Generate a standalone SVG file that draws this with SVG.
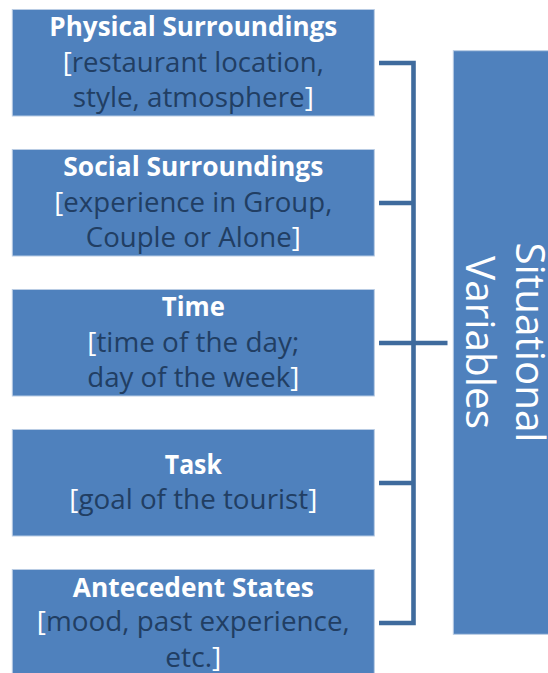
<svg xmlns="http://www.w3.org/2000/svg" width="548" height="673" viewBox="0 0 548 673">
  <style>
    .box { fill: #4f81bd; stroke: #b9cce4; stroke-width: 1; }
    .t { font-family: "Open Sans", "Liberation Sans", sans-serif; font-size: 26px; text-anchor: middle; }
    .title { font-weight: bold; fill: #ffffff; }
    .desc { fill: #213e63; font-size: 27px; }
    .br { fill: #ffffff; }
    .side { font-family: "Open Sans", "Liberation Sans", sans-serif; font-size: 40px; fill: #ffffff; text-anchor: middle; }
    .conn { fill: none; stroke: #3f6b9d; stroke-width: 4.6; stroke-linejoin: miter; }
  </style>
  <rect width="548" height="673" fill="#ffffff"/>

  <g id="connectors">
    <path class="conn" d="M379 63 H413.5 V623 H379"/>
    <path class="conn" d="M379 203 H413.5"/>
    <path class="conn" d="M379 343 H447.5"/>
    <path class="conn" d="M379 483 H413.5"/>
  </g>

  <g id="physical">
    <rect class="box" x="12.3" y="9.5" width="362" height="106.5"/>
    <text class="t title" x="193.3" y="36" textLength="288" lengthAdjust="spacingAndGlyphs">Physical Surroundings</text>
    <text class="t desc" x="193.3" y="72" textLength="261" lengthAdjust="spacingAndGlyphs"><tspan class="br">[</tspan>restaurant location,</text>
    <text class="t desc" x="193.3" y="107" textLength="241" lengthAdjust="spacingAndGlyphs">style, atmosphere<tspan class="br">]</tspan></text>
  </g>

  <g id="social">
    <rect class="box" x="12.3" y="149.5" width="362" height="106.5"/>
    <text class="t title" x="193.3" y="176" textLength="260" lengthAdjust="spacingAndGlyphs">Social Surroundings</text>
    <text class="t desc" x="193.3" y="212" textLength="278" lengthAdjust="spacingAndGlyphs"><tspan class="br">[</tspan>experience in Group,</text>
    <text class="t desc" x="193.3" y="247" textLength="215" lengthAdjust="spacingAndGlyphs">Couple or Alone<tspan class="br">]</tspan></text>
  </g>

  <g id="time">
    <rect class="box" x="12.3" y="289.5" width="362" height="106.5"/>
    <text class="t title" x="193.3" y="316" textLength="63" lengthAdjust="spacingAndGlyphs">Time</text>
    <text class="t desc" x="193.3" y="352" textLength="212" lengthAdjust="spacingAndGlyphs"><tspan class="br">[</tspan>time of the day;</text>
    <text class="t desc" x="193.3" y="387" textLength="212" lengthAdjust="spacingAndGlyphs">day of the week<tspan class="br">]</tspan></text>
  </g>

  <g id="task">
    <rect class="box" x="12.3" y="429.5" width="362" height="106.5"/>
    <text class="t title" x="193.3" y="473.5" textLength="57" lengthAdjust="spacingAndGlyphs">Task</text>
    <text class="t desc" x="193.3" y="509" textLength="248" lengthAdjust="spacingAndGlyphs"><tspan class="br">[</tspan>goal of the tourist<tspan class="br">]</tspan></text>
  </g>

  <g id="antecedent">
    <rect class="box" x="12.3" y="569.5" width="362" height="106.5"/>
    <text class="t title" x="193.3" y="596.5" textLength="241" lengthAdjust="spacingAndGlyphs">Antecedent States</text>
    <text class="t desc" x="193.3" y="631" textLength="313" lengthAdjust="spacingAndGlyphs"><tspan class="br">[</tspan>mood, past experience,</text>
    <text class="t desc" x="193.3" y="666.5" textLength="56" lengthAdjust="spacingAndGlyphs">etc.<tspan class="br">]</tspan></text>
  </g>

  <g id="situational">
    <rect class="box" x="453.3" y="50.7" width="110" height="583.6"/>
    <text class="side" transform="translate(516 342.5) rotate(90)" x="0" y="0" textLength="200" lengthAdjust="spacingAndGlyphs">Situational</text>
    <text class="side" transform="translate(466 342.5) rotate(90)" x="0" y="0" textLength="173" lengthAdjust="spacingAndGlyphs">Variables</text>
  </g>
</svg>
